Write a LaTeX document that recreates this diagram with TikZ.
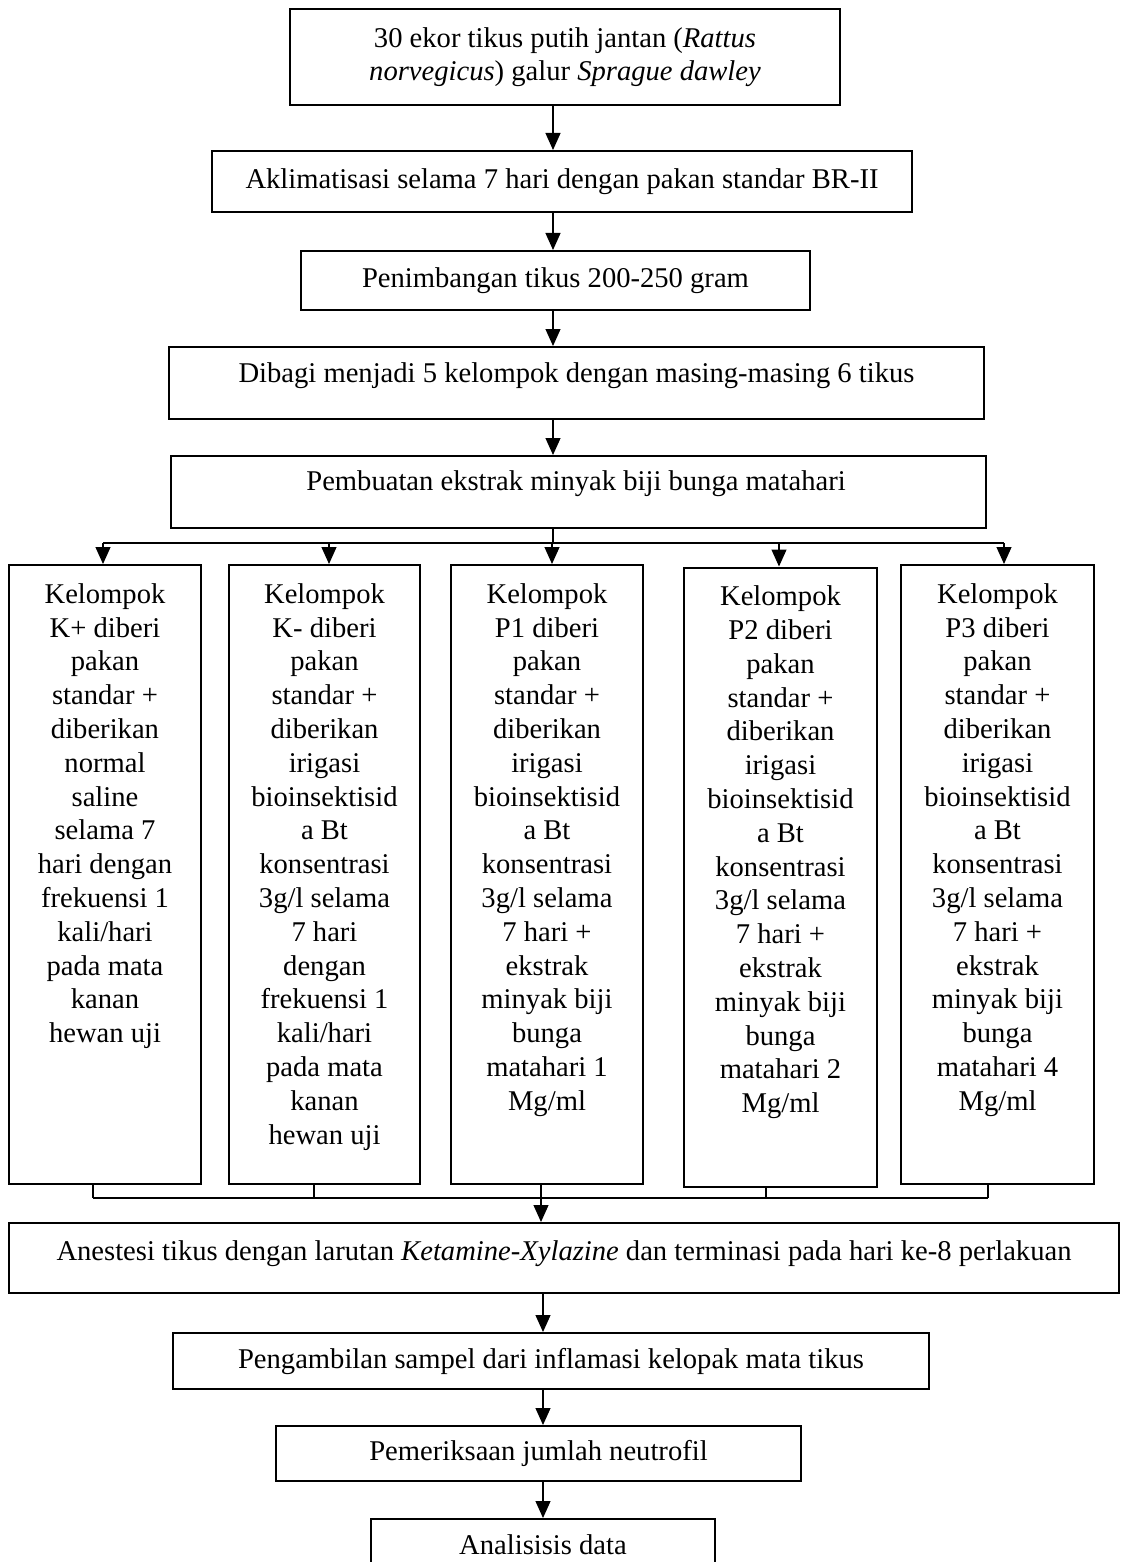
\documentclass[tikz,border=0pt]{standalone}
\usepackage{fontspec}
\setmainfont{Liberation Serif}
\usetikzlibrary{arrows.meta}
\begin{document}
\begin{tikzpicture}[x=0.5pt,y=-0.5pt,
  every node/.style={font=\fontsize{14.3}{16.9}\selectfont},
  box/.style={draw, line width=1pt, inner sep=0pt, align=center},
  grp/.style={draw, line width=1pt, inner sep=0pt, minimum height=309.5pt},
  txt/.style={inner sep=0pt, align=center},
  conn/.style={line width=0.6pt},
  arr/.style={line width=0.6pt, -{Triangle[length=8.5pt,width=7.5pt]}}]
\useasboundingbox (0,0) rectangle (1121,1562);
\clip (0,0) rectangle (1121,1562);

% spine coordinates
\coordinate (sp) at (553,0);
\coordinate (sq) at (541,0);
\coordinate (sr) at (543,0);
\coordinate (brY) at (0,543);
\coordinate (mgY) at (0,1198);

% main boxes
\node[box, minimum width=275pt, minimum height=48pt] (b1) at (565,57)
  {30 ekor tikus putih jantan (\textit{Rattus}\\[-0.5pt] \textit{norvegicus}) galur \textit{Sprague dawley}};
\node[box, minimum width=350pt, minimum height=30.5pt] (b2) at (562,181.5)
  {Aklimatisasi selama 7 hari dengan pakan standar BR-II};
\node[box, minimum width=254.5pt, minimum height=29.5pt] (b3) at (555.5,280.5)
  {Penimbangan tikus 200-250 gram};
\node[box, minimum width=407.5pt, minimum height=36pt] (b4) at (576.5,383) {};
\node[txt] (t4) at (576.5,376) {Dibagi menjadi 5 kelompok dengan masing-masing 6 tikus};
\node[box, minimum width=407.5pt, minimum height=36pt] (b5) at (578.5,492) {};
\node[txt] (t5) at (576,484) {Pembuatan ekstrak minyak biji bunga matahari};

% group boxes
\node[grp, minimum width=96pt] (g1) at (105,874.5) {};
\node[grp, minimum width=95.5pt] (g2) at (324.5,874.5) {};
\node[grp, minimum width=96pt] (g3) at (547,874.5) {};
\node[grp, minimum width=96.5pt] (g4) at (780.5,877) {};
\node[grp, minimum width=96.5pt] (g5) at (997.5,874.5) {};

\node[txt, anchor=north] (tg1) at ([yshift=-9.5pt]g1.north)
  {Kelompok\\K+ diberi\\pakan\\standar +\\diberikan\\normal\\saline\\selama 7\\hari dengan\\frekuensi 1\\kali/hari\\pada mata\\kanan\\hewan uji};
\node[txt, anchor=north] (tg2) at ([yshift=-9.5pt]g2.north)
  {Kelompok\\K- diberi\\pakan\\standar +\\diberikan\\irigasi\\bioinsektisid\\a Bt\\konsentrasi\\3g/l selama\\7 hari\\dengan\\frekuensi 1\\kali/hari\\pada mata\\kanan\\hewan uji};
\node[txt, anchor=north] (tg3) at ([yshift=-9.5pt]g3.north)
  {Kelompok\\P1 diberi\\pakan\\standar +\\diberikan\\irigasi\\bioinsektisid\\a Bt\\konsentrasi\\3g/l selama\\7 hari +\\ekstrak\\minyak biji\\bunga\\matahari 1\\Mg/ml};
\node[txt, anchor=north] (tg4) at ([yshift=-9.5pt]g4.north)
  {Kelompok\\P2 diberi\\pakan\\standar +\\diberikan\\irigasi\\bioinsektisid\\a Bt\\konsentrasi\\3g/l selama\\7 hari +\\ekstrak\\minyak biji\\bunga\\matahari 2\\Mg/ml};
\node[txt, anchor=north] (tg5) at ([yshift=-9.5pt]g5.north)
  {Kelompok\\P3 diberi\\pakan\\standar +\\diberikan\\irigasi\\bioinsektisid\\a Bt\\konsentrasi\\3g/l selama\\7 hari +\\ekstrak\\minyak biji\\bunga\\matahari 4\\Mg/ml};

% lower boxes
\node[box, minimum width=555pt, minimum height=35pt] (b6) at (564,1258) {};
\node[txt] (t6) at (564,1254)
  {Anestesi tikus dengan larutan \textit{Ketamine-Xylazine} dan terminasi pada hari ke-8 perlakuan};
\node[box, minimum width=378pt, minimum height=28pt] (b7) at (551,1361)
  {Pengambilan sampel dari inflamasi kelopak mata tikus};
\node[box, minimum width=262.5pt, minimum height=27.5pt] (b8) at (538.5,1453.5)
  {Pemeriksaan jumlah neutrofil};
\node[box, minimum width=172pt, minimum height=25.5pt] (b9) at (543,1544.5)
  {Analisisis data};

% spine arrows
\draw[arr] (b1.south -| sp) -- (b2.north -| sp);
\draw[arr] (b2.south -| sp) -- (b3.north -| sp);
\draw[arr] (b3.south -| sp) -- (b4.north -| sp);
\draw[arr] (b4.south -| sp) -- (b5.north -| sp);

% branch
\coordinate (x1) at (103,0);
\coordinate (x2) at (329,0);
\coordinate (x3) at (552,0);
\coordinate (x4) at (779,0);
\coordinate (x5) at (1004,0);
\draw[conn] (b5.south -| sp) -- (brY -| sp);
\draw[conn] (brY -| x1) -- (brY -| x5);
\draw[arr] (brY -| x1) -- (g1.north -| x1);
\draw[arr] (brY -| x2) -- (g2.north -| x2);
\draw[arr] (brY -| x3) -- (g3.north -| x3);
\draw[arr] (brY -| x4) -- (g4.north -| x4);
\draw[arr] (brY -| x5) -- (g5.north -| x5);

% merge
\coordinate (m1) at (93,0);
\coordinate (m2) at (314,0);
\coordinate (m3) at (541,0);
\coordinate (m4) at (766,0);
\coordinate (m5) at (988,0);
\draw[conn] (g1.south -| m1) -- (mgY -| m1);
\draw[conn] (g2.south -| m2) -- (mgY -| m2);
\draw[conn] (g3.south -| m3) -- (mgY -| m3);
\draw[conn] (g4.south -| m4) -- (mgY -| m4);
\draw[conn] (g5.south -| m5) -- (mgY -| m5);
\draw[conn] (mgY -| m1) -- (mgY -| m5);
\draw[arr] (mgY -| sq) -- (b6.north -| sq);

% lower spine
\draw[arr] (b6.south -| sr) -- (b7.north -| sr);
\draw[arr] (b7.south -| sr) -- (b8.north -| sr);
\draw[arr] (b8.south -| sr) -- (b9.north -| sr);
\end{tikzpicture}
\end{document}
